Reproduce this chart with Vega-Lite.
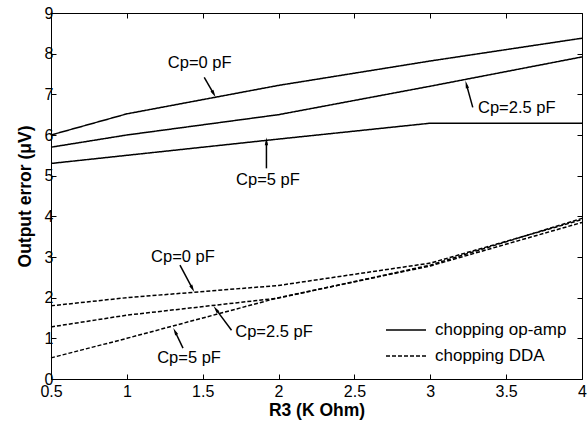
{
  "$schema": "https://vega.github.io/schema/vega-lite/v6.json",
  "width": 531,
  "height": 366,
  "autosize": "none",
  "padding": {"left": 51, "top": 13, "right": 6, "bottom": 44},
  "background": "white",
  "config": {
    "font": "Liberation Sans",
    "view": {"stroke": "black", "strokeWidth": 1},
    "axis": {
      "grid": false,
      "domainColor": "black",
      "tickColor": "black",
      "labelColor": "black",
      "titleColor": "black",
      "labelFont": "Liberation Sans",
      "titleFont": "Liberation Sans",
      "labelFontSize": 16,
      "titleFontSize": 17.5,
      "titleFontWeight": "bold"
    }
  },
  "datasets": {
    "curves": [
      {"r3": 0.5, "err": 6.0, "series": "op-amp Cp=0", "type": "chopping op-amp"},
      {"r3": 1, "err": 6.52, "series": "op-amp Cp=0", "type": "chopping op-amp"},
      {"r3": 2, "err": 7.22, "series": "op-amp Cp=0", "type": "chopping op-amp"},
      {"r3": 3, "err": 7.82, "series": "op-amp Cp=0", "type": "chopping op-amp"},
      {"r3": 4, "err": 8.38, "series": "op-amp Cp=0", "type": "chopping op-amp"},
      {"r3": 0.5, "err": 5.7, "series": "op-amp Cp=2.5", "type": "chopping op-amp"},
      {"r3": 1, "err": 6.0, "series": "op-amp Cp=2.5", "type": "chopping op-amp"},
      {"r3": 2, "err": 6.5, "series": "op-amp Cp=2.5", "type": "chopping op-amp"},
      {"r3": 3, "err": 7.2, "series": "op-amp Cp=2.5", "type": "chopping op-amp"},
      {"r3": 4, "err": 7.92, "series": "op-amp Cp=2.5", "type": "chopping op-amp"},
      {"r3": 0.5, "err": 5.3, "series": "op-amp Cp=5", "type": "chopping op-amp"},
      {"r3": 1, "err": 5.5, "series": "op-amp Cp=5", "type": "chopping op-amp"},
      {"r3": 2, "err": 5.9, "series": "op-amp Cp=5", "type": "chopping op-amp"},
      {"r3": 3, "err": 6.29, "series": "op-amp Cp=5", "type": "chopping op-amp"},
      {"r3": 4, "err": 6.29, "series": "op-amp Cp=5", "type": "chopping op-amp"},
      {"r3": 0.5, "err": 1.8, "series": "DDA Cp=0", "type": "chopping DDA"},
      {"r3": 1, "err": 2.0, "series": "DDA Cp=0", "type": "chopping DDA"},
      {"r3": 2, "err": 2.3, "series": "DDA Cp=0", "type": "chopping DDA"},
      {"r3": 3, "err": 2.85, "series": "DDA Cp=0", "type": "chopping DDA"},
      {"r3": 4, "err": 3.92, "series": "DDA Cp=0", "type": "chopping DDA"},
      {"r3": 0.5, "err": 1.28, "series": "DDA Cp=2.5", "type": "chopping DDA"},
      {"r3": 1, "err": 1.57, "series": "DDA Cp=2.5", "type": "chopping DDA"},
      {"r3": 2, "err": 1.99, "series": "DDA Cp=2.5", "type": "chopping DDA"},
      {"r3": 3, "err": 2.8, "series": "DDA Cp=2.5", "type": "chopping DDA"},
      {"r3": 4, "err": 3.95, "series": "DDA Cp=2.5", "type": "chopping DDA"},
      {"r3": 0.5, "err": 0.52, "series": "DDA Cp=5", "type": "chopping DDA"},
      {"r3": 1, "err": 1.0, "series": "DDA Cp=5", "type": "chopping DDA"},
      {"r3": 2, "err": 2.0, "series": "DDA Cp=5", "type": "chopping DDA"},
      {"r3": 3, "err": 2.78, "series": "DDA Cp=5", "type": "chopping DDA"},
      {"r3": 4, "err": 3.85, "series": "DDA Cp=5", "type": "chopping DDA"}
    ],
    "notes": [
      {"label": "Cp=0 pF", "tx": 1.48, "ty": 7.77, "x1": 1.51, "y1": 7.42, "x2": 1.57, "y2": 7.03, "angle": 150.6},
      {"label": "Cp=5 pF", "tx": 1.93, "ty": 4.89, "x1": 1.92, "y1": 5.18, "x2": 1.92, "y2": 5.82, "angle": 0},
      {"label": "Cp=2.5 pF", "tx": 3.57, "ty": 6.66, "x1": 3.28, "y1": 6.68, "x2": 3.24, "y2": 7.22, "angle": -15.3},
      {"label": "Cp=0 pF", "tx": 1.37, "ty": 3.0, "x1": 1.35, "y1": 2.8, "x2": 1.43, "y2": 2.24, "angle": 152.4},
      {"label": "Cp=2.5 pF", "tx": 1.97, "ty": 1.16, "x1": 1.69, "y1": 1.2, "x2": 1.59, "y2": 1.7, "angle": -36.9},
      {"label": "Cp=5 pF", "tx": 1.41, "ty": 0.52, "x1": 1.37, "y1": 0.76, "x2": 1.32, "y2": 1.15, "angle": -26.6}
    ]
  },
  "layer": [
    {
      "data": {"name": "curves"},
      "mark": {"type": "line", "color": "black", "strokeWidth": 1.5},
      "encoding": {
        "x": {
          "field": "r3", "type": "quantitative",
          "scale": {"domain": [0.5, 4], "nice": false, "zero": false},
          "axis": {
            "title": "R3 (K Ohm)", "values": [0.5, 1, 1.5, 2, 2.5, 3, 3.5, 4],
            "format": "~g", "tickSize": -5, "labelPadding": 9, "titlePadding": 2,
            "labelFlush": false, "domain": false
          }
        },
        "y": {
          "field": "err", "type": "quantitative",
          "scale": {"domain": [0, 9], "nice": false, "zero": false},
          "axis": {
            "title": "Output error (μV)", "values": [0, 1, 2, 3, 4, 5, 6, 7, 8, 9],
            "tickSize": -5, "labelPadding": 3, "titlePadding": 10, "labelFlush": false, "domain": false
          }
        },
        "detail": {"field": "series"},
        "strokeDash": {
          "field": "type", "type": "nominal",
          "scale": {"domain": ["chopping op-amp", "chopping DDA"], "range": [[1, 0], [4, 2]]},
          "legend": {
            "title": null, "orient": "none", "legendX": 334, "legendY": 306,
            "symbolSize": 1600, "symbolStrokeWidth": 1.5, "symbolStrokeColor": "black",
            "labelFontSize": 17, "labelColor": "black", "labelFont": "Liberation Sans",
            "clipHeight": 22, "rowPadding": 4, "labelOffset": 8
          }
        }
      }
    },
    {
      "data": {"name": "notes"},
      "mark": {"type": "rule", "color": "black", "strokeWidth": 1.5},
      "encoding": {
        "x": {"field": "x1", "type": "quantitative", "axis": null},
        "y": {"field": "y1", "type": "quantitative", "axis": null},
        "x2": {"field": "x2"},
        "y2": {"field": "y2"}
      }
    },
    {
      "data": {"name": "notes"},
      "mark": {"type": "point", "shape": "M0,-1L0.35,0.6L-0.35,0.6Z", "filled": true, "color": "black", "size": 90, "opacity": 1},
      "encoding": {
        "x": {"field": "x2", "type": "quantitative", "axis": null},
        "y": {"field": "y2", "type": "quantitative", "axis": null},
        "angle": {"field": "angle", "type": "quantitative", "scale": null}
      }
    },
    {
      "data": {"name": "notes"},
      "mark": {"type": "text", "color": "black", "fontSize": 16.5, "font": "Liberation Sans", "align": "center", "baseline": "middle"},
      "encoding": {
        "x": {"field": "tx", "type": "quantitative",
          "axis": {"orient": "top", "labels": false, "title": null, "tickSize": -5, "domain": false, "values": [0.5, 1, 1.5, 2, 2.5, 3, 3.5, 4]}},
        "y": {"field": "ty", "type": "quantitative",
          "axis": {"orient": "right", "labels": false, "title": null, "tickSize": -5, "domain": false, "values": [0, 1, 2, 3, 4, 5, 6, 7, 8, 9]}},
        "text": {"field": "label"}
      }
    }
  ],
  "resolve": {"axis": {"x": "independent", "y": "independent"}}
}
